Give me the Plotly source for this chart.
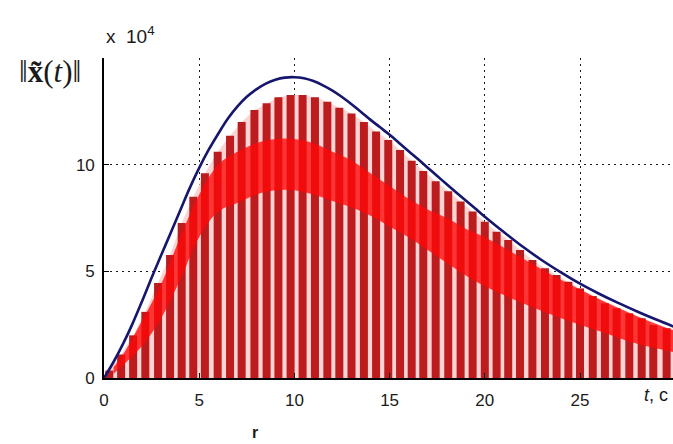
import plotly.graph_objects as go

# ---- data (units of 10^4) ----
env_t = [0, 0.5, 1, 1.5, 2, 2.5, 3, 3.5, 4, 4.5, 5, 5.5, 6, 6.5, 7, 7.5, 8, 8.5, 9, 9.5,
         10, 10.5, 11, 11.5, 12, 12.5, 13, 13.5, 14, 14.5, 15, 15.5, 16, 16.5, 17, 17.5,
         18, 18.5, 19, 19.5, 20, 21, 22, 23, 24, 25, 26, 27, 28, 29, 30]
env_v = [0, 0.75, 1.6, 2.55, 3.6, 4.7, 5.75, 6.8, 7.85, 8.9, 9.85, 10.7, 11.45, 12.15, 12.72,
         13.18, 13.53, 13.8, 13.98, 14.08, 14.1, 14.05, 13.92, 13.72, 13.47, 13.17, 12.83,
         12.47, 12.1, 11.75, 11.4, 11.02, 10.63, 10.25, 9.86, 9.47, 9.08, 8.7, 8.32, 7.94,
         7.56, 6.84, 6.15, 5.52, 4.95, 4.42, 3.95, 3.52, 3.12, 2.74, 2.38]

bar_t = [0.28, 0.9, 1.53, 2.17, 2.84, 3.47, 4.08, 4.69, 5.30, 5.97, 6.62, 7.23, 7.90, 8.54,
         9.16, 9.80, 10.43, 11.08, 11.73, 12.36, 13.00, 13.65, 14.29, 14.93, 15.55, 16.16,
         16.77, 17.42, 18.08, 18.73, 19.36, 20.00, 20.62, 21.23, 21.85, 22.50, 23.16, 23.77,
         24.39, 25.00, 25.67, 26.31, 26.92, 27.59, 28.24, 28.85, 29.55]
bar_top = [0.35, 1.1, 2.0, 3.1, 4.45, 5.77, 7.27, 8.5, 9.6, 10.6, 11.35, 12.0, 12.56, 12.88,
           13.16, 13.27, 13.27, 13.16, 12.95, 12.67, 12.4, 12.0, 11.55, 11.16, 10.69, 10.18,
           9.7, 9.22, 8.75, 8.27, 7.8, 7.33, 6.86, 6.47, 6.0, 5.53, 5.14, 4.83,
           4.51, 4.2, 3.84, 3.5, 3.27, 3.03, 2.8, 2.48, 2.33]

band_t = [0.5, 1, 2, 3, 4, 5, 6, 7, 8, 9, 10, 11, 12, 13, 14, 15, 16, 17, 18, 19, 20,
          22, 24, 26, 28, 30]
band_lo = [0.2, 0.6, 1.5, 2.8, 4.6, 6.6, 7.8, 8.2, 8.6, 8.8, 8.8, 8.6, 8.3, 8.0, 7.6, 7.1,
           6.6, 6.0, 5.4, 4.8, 4.3, 3.5, 2.8, 2.2, 1.6, 1.2]
band_hi = [0.5, 1.1, 2.7, 4.4, 6.6, 8.6, 10.0, 10.6, 11.0, 11.2, 11.2, 11.0, 10.6, 10.2,
           9.6, 9.0, 8.4, 7.9, 7.5, 7.0, 6.6, 5.6, 4.6, 3.7, 2.9, 2.2]

x_ticks = [0, 5, 10, 15, 20, 25]
y_ticks = [0, 5, 10]

fig = go.Figure()

# pink haze between the oscillation bars
fig.add_trace(go.Scatter(x=[0] + bar_t + [29.9], y=[0] + bar_top + [2.3],
                         mode="lines", line=dict(width=0), fill="tozeroy",
                         fillcolor="rgb(252,212,212)", hoverinfo="skip", showlegend=False))

# dark red oscillation bars, drawn as thick vertical strokes of a line trace
seg_x, seg_y = [], []
for t, top in zip(bar_t, bar_top):
    seg_x += [t, t, None]
    seg_y += [0, top, None]
fig.add_trace(go.Scatter(x=seg_x, y=seg_y, mode="lines", connectgaps=False,
                         line=dict(color="rgb(188,28,30)", width=8),
                         hoverinfo="skip", showlegend=False))

# bright red dense band
fig.add_trace(go.Scatter(x=band_t, y=band_lo, mode="lines", line=dict(width=0, shape="spline"),
                         hoverinfo="skip", showlegend=False))
fig.add_trace(go.Scatter(x=band_t, y=band_hi, mode="lines", line=dict(width=0, shape="spline"),
                         fill="tonexty", fillcolor="rgba(255,8,8,0.78)",
                         hoverinfo="skip", showlegend=False))
# envelope
fig.add_trace(go.Scatter(x=env_t, y=env_v, mode="lines",
                         line=dict(color="rgb(22,22,110)", width=2.6, shape="spline"),
                         showlegend=False))

L, R, T, B = 104, 0, 58, 66
fig.update_layout(
    width=673, height=444,
    margin=dict(l=L, r=R, t=T, b=B, pad=0),
    paper_bgcolor="white", plot_bgcolor="white",
    font=dict(family="Liberation Sans, Arial", size=17, color="#1a1a1a"),
    xaxis=dict(range=[0, 569 / 19.04], tickvals=x_ticks, ticktext=[str(v) for v in x_ticks],
               showgrid=True, gridcolor="rgb(25,25,25)", gridwidth=1.2, griddash="2px,4px",
               showline=True, linecolor="black", linewidth=1.6, mirror=False,
               ticks="inside", ticklen=5, tickcolor="black", zeroline=False,
               ticklabelstandoff=6),
    yaxis=dict(range=[0, 15], tickvals=y_ticks, ticktext=[str(v) for v in y_ticks],
               showgrid=True, gridcolor="rgb(25,25,25)", gridwidth=1.2, griddash="2px,4px",
               showline=True, linecolor="black", linewidth=1.6, mirror=False,
               ticks="inside", ticklen=5, tickcolor="black", zeroline=False,
               ticklabelstandoff=4),
)

W = 673 - L - R
H = 444 - T - B
def px(x):
    return (x - L) / W
def py(y):
    return (444 - B - y) / H

fig.add_annotation(text="x  10<sup>4</sup>", xref="paper", yref="paper",
                   x=px(104), y=py(35), xanchor="left", yanchor="middle",
                   showarrow=False, font=dict(size=19, family="Liberation Sans, Arial"))
fig.add_annotation(text="‖<b>x̃</b>(<i>t</i>)‖", xref="paper", yref="paper",
                   x=px(50), y=py(72), xanchor="center", yanchor="middle",
                   showarrow=False, font=dict(size=31, family="Liberation Serif, Times New Roman"))
fig.add_annotation(text="<i>t</i>, c", xref="paper", yref="paper",
                   x=px(642), y=py(395), xanchor="left", yanchor="middle",
                   showarrow=False, font=dict(size=18, family="Liberation Sans, Arial"))
fig.add_annotation(text="<b>r</b>", xref="paper", yref="paper",
                   x=px(255), y=py(432), xanchor="center", yanchor="middle",
                   showarrow=False, font=dict(size=16, family="Liberation Sans, Arial"))

fig.write_html("out.html")
